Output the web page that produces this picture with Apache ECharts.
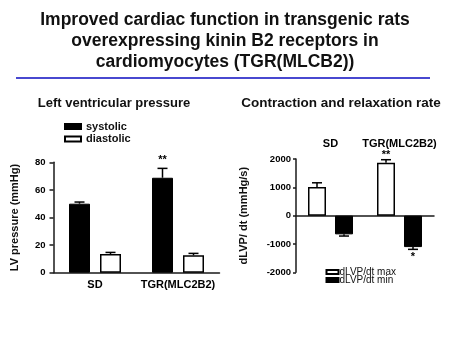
<!DOCTYPE html>
<html>
<head>
<meta charset="utf-8">
<script src="https://cdn.jsdelivr.net/npm/echarts@6/dist/echarts.min.js"></script>
<style>
  html, body { margin: 0; padding: 0; background: #fff; }
  #chart { width: 450px; height: 338px; }
</style>
</head>
<body>
<div id="chart"></div>
<script>
// Groups (rat strains)
const groups = ['SD', 'TGR(MLC2B2)'];

// Left ventricular pressure (mmHg), mean and SEM
const systolic = [50, 68.8];
const systolicErr = [1.2, 6.8];
const diastolic = [13.5, 12.6];
const diastolicErr = [1.2, 1.4];
const systolicSig = ['', '**'];
const diastolicSig = ['', ''];

// Contraction / relaxation rate (mmHg/s), mean and SEM
const dlvpMax = [1010, 1870];
const dlvpMaxErr = [150, 105];
const dlvpMin = [-660, -1110];
const dlvpMinErr = [60, 80];
const maxSig = ['', '**'];
const minSig = ['', '*'];

// Axis tick values
const lvTicks = [0, 20, 40, 60, 80];
const rateTicks = [-2000, -1000, 0, 1000, 2000];

const FONT = "'Liberation Sans', Arial, Helvetica, sans-serif";

// Bar geometry per panel
const LV_BAR = 21, LV_GAP = 10;
const RATE_BAR = 18, RATE_GAP = 9;

// One-sided error bars (away from zero) plus significance marks
function errorSeries(xAxisIndex, yAxisIndex, vals, errs, sig, shift, sigGap) {
  return {
    type: 'custom',
    xAxisIndex: xAxisIndex,
    yAxisIndex: yAxisIndex,
    silent: true,
    z: 5,
    encode: { x: 0, y: 1 },
    data: vals.map((v, i) => [i, v, errs[i]]),
    renderItem: function (params, api) {
      const i = api.value(0), v = api.value(1), e = api.value(2);
      const dir = v >= 0 ? 1 : -1;
      const p0 = api.coord([i, v]);
      const p1 = api.coord([i, v + dir * e]);
      const x = p0[0] + shift;
      const cap = 5;
      const style = { stroke: '#000', lineWidth: 1.5 };
      const children = [
        { type: 'line', shape: { x1: x, y1: p0[1], x2: x, y2: p1[1] }, style: style },
        { type: 'line', shape: { x1: x - cap, y1: p1[1], x2: x + cap, y2: p1[1] }, style: style }
      ];
      const s = sig[params.dataIndex];
      if (s) {
        children.push({
          type: 'text',
          style: {
            text: s, x: x, y: p1[1] - dir * sigGap,
            align: 'center', verticalAlign: 'middle',
            font: 'bold 11px ' + FONT, fill: '#000'
          }
        });
      }
      return { type: 'group', children: children };
    }
  };
}

const chart = echarts.init(document.getElementById('chart'), null, { renderer: 'canvas' });

const axisLine = { show: true, lineStyle: { color: '#1a1a1a', width: 1.5 } };
const tickLabel = {
  color: '#000', fontFamily: FONT, fontWeight: 'bold', fontSize: 9.5,
  formatter: function (v) { return String(v); }
};

chart.setOption({
  animation: false,
  backgroundColor: '#fff',
  graphic: [
    {
      type: 'text', x: 225, y: 9.5,
      style: {
        text: 'Improved cardiac function in transgenic rats\noverexpressing kinin B2 receptors in\ncardiomyocytes (TGR(MLCB2))',
        align: 'center', verticalAlign: 'top',
        font: 'bold 17.5px ' + FONT, lineHeight: 21, fill: '#111'
      }
    },
    {
      type: 'text', x: 114, y: 103,
      style: { text: 'Left ventricular pressure', align: 'center', verticalAlign: 'middle', font: 'bold 13px ' + FONT, fill: '#111' }
    },
    {
      type: 'text', x: 341, y: 103,
      style: { text: 'Contraction and relaxation rate', align: 'center', verticalAlign: 'middle', font: 'bold 13.5px ' + FONT, fill: '#111' }
    },
    { type: 'line', shape: { x1: 16, y1: 78, x2: 430, y2: 78 }, style: { stroke: '#4848d0', lineWidth: 2 } }
  ],
  legend: [
    {
      data: ['systolic', 'diastolic'],
      orient: 'vertical', left: 64, top: 120.5, padding: 0,
      itemWidth: 16, itemHeight: 5, itemGap: 0.5,
      icon: 'rect',
      textStyle: { fontFamily: FONT, fontWeight: 'bold', fontSize: 11, lineHeight: 12, color: '#111' }
    },
    {
      data: ['dLVP/dt max', 'dLVP/dt min'],
      orient: 'vertical', left: 325.5, top: 267, padding: 0,
      itemWidth: 12, itemHeight: 4, itemGap: -2,
      icon: 'rect',
      textStyle: { fontFamily: FONT, fontSize: 10, lineHeight: 8, color: '#111', padding: [0, 0, 0, -4] }
    }
  ],
  grid: [
    { left: 53.5, top: 162.3, width: 166, height: 110.4, containLabel: false },
    { left: 296, top: 159, width: 138, height: 113.3, containLabel: false }
  ],
  xAxis: [
    {
      type: 'category', gridIndex: 0, data: groups,
      axisLine: axisLine, axisTick: { show: false },
      axisLabel: { interval: 0, color: '#000', fontFamily: FONT, fontWeight: 'bold', fontSize: 11, margin: 7 }
    },
    {
      type: 'category', gridIndex: 1, data: groups,
      axisLine: Object.assign({ onZero: true }, axisLine), axisTick: { show: false },
      axisLabel: { show: false }
    },
    {
      type: 'category', gridIndex: 1, data: groups, position: 'top',
      axisLine: { show: false }, axisTick: { show: false },
      axisLabel: { interval: 0, color: '#000', fontFamily: FONT, fontWeight: 'bold', fontSize: 11, margin: 10 }
    }
  ],
  yAxis: [
    {
      type: 'value', gridIndex: 0,
      min: lvTicks[0], max: lvTicks[lvTicks.length - 1], interval: lvTicks[1] - lvTicks[0],
      name: 'LV pressure (mmHg)', nameLocation: 'middle', nameGap: 33, nameRotate: 90,
      nameTextStyle: { fontFamily: FONT, fontWeight: 'bold', fontSize: 11, color: '#111' },
      axisLine: axisLine,
      axisTick: { show: true, length: 4, lineStyle: { color: '#1a1a1a', width: 1.5 } },
      axisLabel: Object.assign({ margin: 8 }, tickLabel),
      splitLine: { show: false }
    },
    {
      type: 'value', gridIndex: 1,
      min: rateTicks[0], max: rateTicks[rateTicks.length - 1], interval: rateTicks[1] - rateTicks[0],
      name: 'dLVP/ dt (mmHg/s)', nameLocation: 'middle', nameGap: 47, nameRotate: 90,
      nameTextStyle: { fontFamily: FONT, fontWeight: 'bold', fontSize: 11, color: '#111' },
      axisLine: axisLine,
      axisTick: { show: true, length: 3, lineStyle: { color: '#1a1a1a', width: 1.5 } },
      axisLabel: Object.assign({ margin: 5 }, tickLabel),
      splitLine: { show: false }
    }
  ],
  series: [
    {
      name: 'systolic', type: 'bar', xAxisIndex: 0, yAxisIndex: 0, data: systolic,
      barWidth: LV_BAR, barGap: (LV_GAP / LV_BAR * 100) + '%',
      itemStyle: { color: '#000', borderColor: '#000', borderWidth: 1 }
    },
    {
      name: 'diastolic', type: 'bar', xAxisIndex: 0, yAxisIndex: 0, data: diastolic,
      barWidth: LV_BAR, barGap: (LV_GAP / LV_BAR * 100) + '%',
      itemStyle: { color: '#fff', borderColor: '#000', borderWidth: 1.5 }
    },
    {
      name: 'dLVP/dt max', type: 'bar', xAxisIndex: 1, yAxisIndex: 1, data: dlvpMax,
      barWidth: RATE_BAR, barGap: (RATE_GAP / RATE_BAR * 100) + '%',
      itemStyle: { color: '#fff', borderColor: '#000', borderWidth: 1.5 }
    },
    {
      name: 'dLVP/dt min', type: 'bar', xAxisIndex: 1, yAxisIndex: 1, data: dlvpMin,
      barWidth: RATE_BAR, barGap: (RATE_GAP / RATE_BAR * 100) + '%',
      itemStyle: { color: '#000', borderColor: '#000', borderWidth: 1 }
    },
    errorSeries(0, 0, systolic, systolicErr, systolicSig, -(LV_BAR + LV_GAP) / 2, 8),
    errorSeries(0, 0, diastolic, diastolicErr, diastolicSig, (LV_BAR + LV_GAP) / 2, 8),
    errorSeries(1, 1, dlvpMax, dlvpMaxErr, maxSig, -(RATE_BAR + RATE_GAP) / 2, 5),
    errorSeries(1, 1, dlvpMin, dlvpMinErr, minSig, (RATE_BAR + RATE_GAP) / 2, 8)
  ]
});
</script>
</body>
</html>
